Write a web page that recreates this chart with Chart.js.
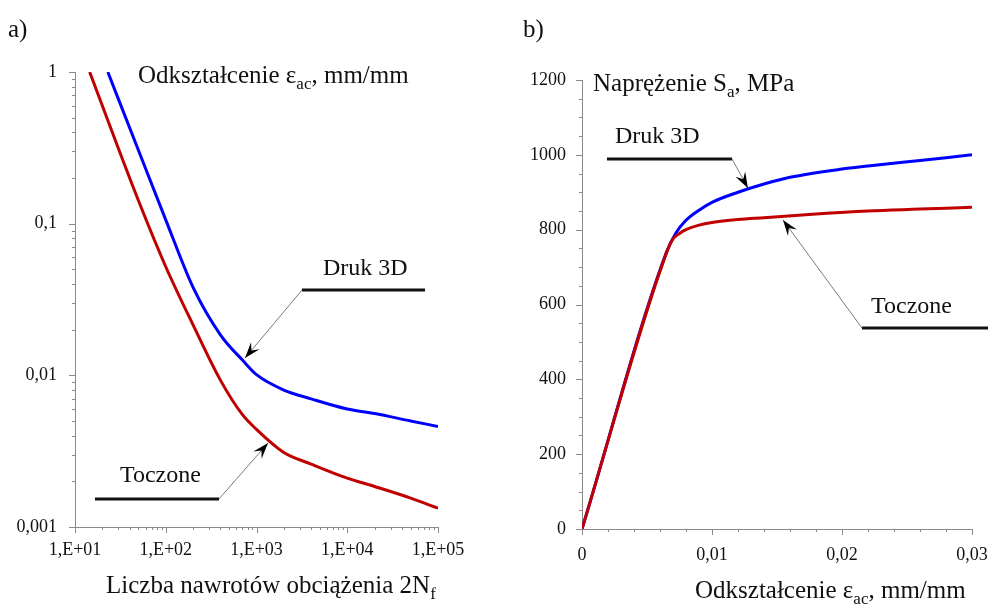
<!DOCTYPE html>
<html>
<head>
<meta charset="utf-8">
<script src="https://cdn.jsdelivr.net/npm/chart.js@4.4.1/dist/chart.umd.min.js"></script>
<style>
  body { margin: 0; background: #fff; width: 989px; height: 604px; overflow: hidden; position: relative; }
  canvas { position: absolute; top: 0; }
  #chartA { left: 0; }
  #chartB { left: 489px; }
</style>
</head>
<body>
<canvas id="chartA" width="489" height="604"></canvas>
<canvas id="chartB" width="500" height="604"></canvas>
<script>
// a) strain amplitude vs reversals to failure (log-log)
const cyclesDruk = [23, 50, 100, 200, 400, 700, 1000, 2000, 4000, 10000, 20000, 50000, 100000];
const strainDruk = [1.0, 0.305, 0.106, 0.038, 0.0185, 0.0126, 0.0101, 0.008, 0.007, 0.006, 0.0056, 0.0050, 0.0046];
const cyclesToczone = [14.5, 50, 100, 200, 400, 700, 1000, 2000, 4000, 10000, 20000, 50000, 100000];
const strainToczone = [1.0, 0.142, 0.052, 0.0215, 0.0093, 0.0055, 0.0044, 0.0031, 0.0026, 0.0021, 0.00185, 0.00155, 0.00133];

// b) cyclic stress-strain curves
const strainDrukB = [0, 0.0065, 0.0072, 0.008, 0.009, 0.010, 0.012, 0.014, 0.016, 0.020, 0.022, 0.026, 0.030];
const stressDrukB = [0, 740, 790, 825, 852, 873, 900, 922, 940, 962, 970, 985, 1000];
const strainToczoneB = [0, 0.0065, 0.007, 0.0075, 0.008, 0.009, 0.010, 0.012, 0.014, 0.018, 0.022, 0.026, 0.030];
const stressToczoneB = [0, 738, 775, 790, 800, 812, 819, 827, 832, 842, 850, 855, 860];

// tick labels
const xTicksA = [10, 100, 1000, 10000, 100000];
const xLabelsA = ['1,E+01', '1,E+02', '1,E+03', '1,E+04', '1,E+05'];
const yTicksA = [0.001, 0.01, 0.1, 1];
const yLabelsA = ['0,001', '0,01', '0,1', '1'];
const xTicksB = [0, 0.01, 0.02, 0.03];
const xLabelsB = ['0', '0,01', '0,02', '0,03'];
const yTicksB = [0, 200, 400, 600, 800, 1000, 1200];
const yLabelsB = ['0', '200', '400', '600', '800', '1000', '1200'];

const serif = "'Liberation Serif', 'Times New Roman', serif";
const axisGray = '#8a8a8a';
const blue = '#0000ff';
const red = '#c00000';

const toPoints = (xs, ys) => xs.map((x, i) => ({ x: x, y: ys[i] }));

// majors plus minor positions between them
function logTicks(majors) {
  const out = [];
  majors.forEach((m, i) => {
    out.push(m);
    if (i < majors.length - 1) for (let k = 2; k <= 9; k++) out.push(m * k);
  });
  return out;
}
function linTicks(majors, parts) {
  const out = [];
  majors.forEach((m, i) => {
    out.push(m);
    if (i < majors.length - 1) {
      const step = (majors[i + 1] - m) / parts;
      for (let k = 1; k < parts; k++) out.push(m + step * k);
    }
  });
  return out;
}
function labelFor(value, majors, labels) {
  for (let i = 0; i < majors.length; i++) {
    if (Math.abs(value - majors[i]) <= Math.abs(majors[i]) * 1e-6 + 1e-12) return labels[i];
  }
  return '';
}

function drawRich(ctx, parts, x, y, size) {
  let cx = x;
  parts.forEach(p => {
    const sub = p[1] === 'sub';
    ctx.font = (sub ? Math.round(size * 0.68) : size) + 'px ' + serif;
    ctx.fillText(p[0], cx, sub ? y + size * 0.22 : y);
    cx += ctx.measureText(p[0]).width;
  });
}

function arrowHead(ctx, fx, fy, tx, ty) {
  const a = Math.atan2(ty - fy, tx - fx);
  const len = 16, half = 5.5, notch = 10;
  const bx = tx - Math.cos(a) * len, by = ty - Math.sin(a) * len;
  const nx = tx - Math.cos(a) * notch, ny = ty - Math.sin(a) * notch;
  ctx.beginPath();
  ctx.moveTo(tx, ty);
  ctx.lineTo(bx + Math.sin(a) * half, by - Math.cos(a) * half);
  ctx.lineTo(nx, ny);
  ctx.lineTo(bx - Math.sin(a) * half, by + Math.cos(a) * half);
  ctx.closePath();
  ctx.fill();
}

function decor(texts, notes) {
  return {
    id: 'decor',
    afterDraw(chart) {
      const ctx = chart.ctx;
      const xs = chart.scales.x, ys = chart.scales.y;
      ctx.save();
      // tick marks, longer at labelled ticks
      ctx.strokeStyle = axisGray;
      ctx.lineWidth = 1;
      ctx.beginPath();
      xs.ticks.forEach(t => {
        const p = Math.round(xs.getPixelForValue(t.value)) + 0.5;
        ctx.moveTo(p, ys.bottom);
        ctx.lineTo(p, ys.bottom + (t.label ? 6 : 3));
      });
      ys.ticks.forEach(t => {
        const p = Math.round(ys.getPixelForValue(t.value)) + 0.5;
        ctx.moveTo(xs.left, p);
        ctx.lineTo(xs.left - (t.label ? 6 : 3), p);
      });
      ctx.stroke();

      // titles
      ctx.fillStyle = '#111';
      ctx.textBaseline = 'alphabetic';
      ctx.textAlign = 'left';
      texts.forEach(t => drawRich(ctx, t.parts, t.x, t.y, t.size));

      // labels with underline and leader arrow
      notes.forEach(n => {
        const px = v => xs.getPixelForValue(v[0]);
        const py = v => ys.getPixelForValue(v[1]);
        ctx.fillStyle = '#111';
        ctx.font = '24px ' + serif;
        ctx.fillText(n.text, px(n.textAt), py(n.textAt));
        ctx.strokeStyle = '#111';
        ctx.lineWidth = 3;
        ctx.beginPath();
        ctx.moveTo(px(n.line[0]), py(n.line[0]));
        ctx.lineTo(px(n.line[1]), py(n.line[1]));
        ctx.stroke();
        const s = n.line[n.from];
        const fx = px(s), fy = py(s), tx = px(n.tip), ty = py(n.tip);
        ctx.strokeStyle = '#7a7a7a';
        ctx.lineWidth = 1;
        ctx.beginPath();
        ctx.moveTo(fx, fy);
        ctx.lineTo(tx, ty);
        ctx.stroke();
        ctx.fillStyle = '#000';
        arrowHead(ctx, fx, fy, tx, ty);
      });
      ctx.restore();
    }
  };
}

// gap = room between axis line and labels (invisible tick length), so it does not add side padding
function axis(type, min, max, majors, labels, ticks, fit, gap) {
  return {
    type: type,
    min: min,
    max: max,
    grid: { display: true, drawOnChartArea: false, drawTicks: true, tickLength: gap, tickColor: 'rgba(0,0,0,0)', color: 'rgba(0,0,0,0)' },
    border: { display: true, color: axisGray, width: 1 },
    ticks: {
      autoSkip: false,
      maxRotation: 0,
      padding: 0,
      color: '#111',
      font: { family: serif, size: 18 },
      callback: v => labelFor(v, majors, labels)
    },
    afterBuildTicks: scale => { scale.ticks = ticks.map(v => ({ value: v })); },
    afterFit: fit
  };
}

function lineSet(label, points, color, order) {
  return {
    label: label,
    data: points,
    borderColor: color,
    backgroundColor: color,
    borderWidth: 3,
    pointRadius: 0,
    cubicInterpolationMode: 'monotone',
    order: order
  };
}

document.addEventListener('DOMContentLoaded', () => {
  new Chart(document.getElementById('chartA'), {
    type: 'line',
    data: {
      datasets: [
        lineSet('Toczone', toPoints(cyclesToczone, strainToczone), red, 1),
        lineSet('Druk 3D', toPoints(cyclesDruk, strainDruk), blue, 2)
      ]
    },
    options: {
      responsive: false,
      animation: false,
      layout: { padding: { top: 72, right: 51, bottom: 0, left: 0 } },
      plugins: { legend: { display: false }, tooltip: { enabled: false } },
      scales: {
        x: axis('logarithmic', 10, 100000, xTicksA, xLabelsA, logTicks(xTicksA), s => { s.height = 77; }, 12),
        y: axis('logarithmic', 0.001, 1, yTicksA, yLabelsA, logTicks(yTicksA), s => { s.width = 75; }, 18)
      }
    },
    plugins: [decor(
      [
        { parts: [['a)']], x: 8, y: 37, size: 25 },
        { parts: [['Odkształcenie ε'], ['ac', 'sub'], [', mm/mm']], x: 138, y: 83, size: 25 },
        { parts: [['Liczba nawrotów obciążenia 2N'], ['f', 'sub']], x: 106, y: 593, size: 25 }
      ],
      [
        { text: 'Druk 3D', textAt: [5400, 0.0459], line: [[3170, 0.0365], [71900, 0.0365]], from: 0, tip: [747, 0.013] },
        { text: 'Toczone', textAt: [31.3, 0.00198], line: [[16.6, 0.00153], [386, 0.00153]], from: 1, tip: [1340, 0.00358] }
      ]
    )]
  });

  new Chart(document.getElementById('chartB'), {
    type: 'line',
    data: {
      datasets: [
        lineSet('Toczone', toPoints(strainToczoneB, stressToczoneB), red, 1),
        lineSet('Druk 3D', toPoints(strainDrukB, stressDrukB), blue, 2)
      ]
    },
    options: {
      responsive: false,
      animation: false,
      layout: { padding: { top: 80, right: 17, bottom: 0, left: 0 } },
      plugins: { legend: { display: false }, tooltip: { enabled: false } },
      scales: {
        x: axis('linear', 0, 0.03, xTicksB, xLabelsB, linTicks(xTicksB, 5), s => { s.height = 75; }, 15),
        y: axis('linear', 0, 1200, yTicksB, yLabelsB, linTicks(yTicksB, 4), s => { s.width = 93; }, 16)
      }
    },
    plugins: [decor(
      [
        { parts: [['b)']], x: 34, y: 37, size: 25 },
        { parts: [['Naprężenie S'], ['a', 'sub'], [', MPa']], x: 104, y: 91, size: 25 },
        { parts: [['Odkształcenie ε'], ['ac', 'sub'], [', mm/mm']], x: 206, y: 598, size: 25 }
      ],
      [
        { text: 'Druk 3D', textAt: [0.00254, 1032], line: [[0.00192, 989], [0.01154, 989]], from: 1, tip: [0.01277, 911] },
        { text: 'Toczone', textAt: [0.02223, 577], line: [[0.02154, 537], [0.03123, 537]], from: 0, tip: [0.01546, 826] }
      ]
    )]
  });
});
</script>
</body>
</html>
